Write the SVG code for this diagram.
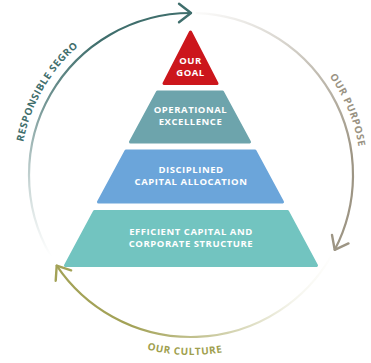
<svg xmlns="http://www.w3.org/2000/svg" width="371" height="363" viewBox="0 0 371 363">
<defs>
<style>
.tier{stroke-width:3;stroke-linejoin:round}
.tt{font-family:"Open Sans","Noto Sans","Liberation Sans",sans-serif;font-weight:700;font-size:9.5px;fill:#ffffff;text-anchor:middle;letter-spacing:0.55px}
.at{font-family:"Open Sans","Noto Sans","Liberation Sans",sans-serif;font-weight:700;font-size:10px;letter-spacing:0.6px}
.arc{fill:none;stroke-width:2.2;stroke-linecap:round}
</style>
<linearGradient id="gTeal" gradientUnits="userSpaceOnUse" x1="50" y1="256" x2="150" y2="20">
<stop offset="0" stop-color="#3f6e6c" stop-opacity="0"/>
<stop offset="0.24" stop-color="#3f6e6c" stop-opacity="0.3"/>
<stop offset="0.56" stop-color="#3f6e6c" stop-opacity="0.75"/>
<stop offset="0.85" stop-color="#3f6e6c" stop-opacity="1"/>
</linearGradient>
<linearGradient id="gGrey" gradientUnits="userSpaceOnUse" x1="200" y1="13" x2="345" y2="240">
<stop offset="0" stop-color="#9d9584" stop-opacity="0.05"/>
<stop offset="0.4" stop-color="#9d9584" stop-opacity="0.6"/>
<stop offset="0.75" stop-color="#9d9584" stop-opacity="1"/>
</linearGradient>
<linearGradient id="gOlive" gradientUnits="userSpaceOnUse" x1="335" y1="250" x2="60" y2="266">
<stop offset="0" stop-color="#a3a257" stop-opacity="0"/>
<stop offset="0.15" stop-color="#a3a257" stop-opacity="0.1"/>
<stop offset="0.45" stop-color="#a3a257" stop-opacity="0.55"/>
<stop offset="0.75" stop-color="#a3a257" stop-opacity="1"/>
</linearGradient>
<marker id="mTeal" markerUnits="userSpaceOnUse" orient="auto" markerWidth="30" markerHeight="30" refX="0" refY="0" viewBox="-15 -15 30 30" overflow="visible">
<path d="M-12,-9.3 L0,0 L-12,9.3" fill="none" stroke="#3f6e6c" stroke-width="2.4" stroke-linecap="round" stroke-linejoin="round"/>
</marker>
<marker id="mGrey" markerUnits="userSpaceOnUse" orient="auto" markerWidth="30" markerHeight="30" refX="0" refY="0" viewBox="-15 -15 30 30" overflow="visible">
<path d="M-12,-9.3 L0,0 L-12,9.3" fill="none" stroke="#9d9584" stroke-width="2.4" stroke-linecap="round" stroke-linejoin="round"/>
</marker>
<marker id="mOlive" markerUnits="userSpaceOnUse" orient="auto" markerWidth="30" markerHeight="30" refX="0" refY="0" viewBox="-15 -15 30 30" overflow="visible">
<path d="M-12,-9.3 L0,0 L-12,9.3" fill="none" stroke="#a3a257" stroke-width="2.4" stroke-linecap="round" stroke-linejoin="round"/>
</marker>
<path id="pLeft" d="M22.6,204.7 A171,171 0 0 1 132.5,14.3"/>
<path id="pRight" d="M269.5,24.2 A170,170 0 0 1 353.1,226.1"/>
<path id="pBottom" d="M70.6,308.8 A180,180 0 0 0 301.8,316.8"/>
</defs>
<rect width="371" height="363" fill="#ffffff"/>
<g id="connectors">
<path id="arc-responsible" class="arc" stroke="url(#gTeal)" d="M50.7,256 A162,162 0 0 1 191,13" marker-end="url(#mTeal)"/>
<path id="arc-purpose" class="arc" stroke="url(#gGrey)" d="M196.7,13.1 A162,162 0 0 1 334.7,249.8" marker-end="url(#mGrey)"/>
<path id="arc-culture" class="arc" stroke="url(#gOlive)" d="M331.3,256 A162,162 0 0 1 56.7,265.6" marker-end="url(#mOlive)"/>
</g>
<g id="label-responsible">
<text class="at" fill="#3f6e6c"><textPath href="#pLeft" startOffset="50%" text-anchor="middle">RESPONSIBLE SEGRO</textPath></text>
</g>
<g id="label-purpose">
<text class="at" fill="#9a9383"><textPath href="#pRight" startOffset="50%" text-anchor="middle">OUR PURPOSE</textPath></text>
</g>
<g id="label-culture">
<text class="at" fill="#a09f4f"><textPath href="#pBottom" startOffset="50%" text-anchor="middle">OUR CULTURE</textPath></text>
</g>
<g id="node-goal">
<polygon class="tier" fill="#cc161c" stroke="#cc161c" points="190.5,32 164,83.5 217,83.5"/>
<text class="tt" x="190.5" y="64">OUR</text>
<text class="tt" x="190.5" y="75.7">GOAL</text>
</g>
<g id="node-operational">
<polygon class="tier" fill="#6da4ac" stroke="#6da4ac" points="157.5,92 222.5,92 249.5,142 130.5,142"/>
<text class="tt" x="190.5" y="113">OPERATIONAL</text>
<text class="tt" x="190.5" y="125">EXCELLENCE</text>
</g>
<g id="node-disciplined">
<polygon class="tier" fill="#6ba5da" stroke="#6ba5da" points="126,151 255,151 282.5,202 98.5,202"/>
<text class="tt" x="191" y="173.3">DISCIPLINED</text>
<text class="tt" x="191" y="185">CAPITAL ALLOCATION</text>
</g>
<g id="node-efficient">
<polygon class="tier" fill="#72c4c0" stroke="#72c4c0" points="94.5,211.5 287.5,211.5 316.5,265.5 65.5,265.5"/>
<text class="tt" x="191" y="235.3">EFFICIENT CAPITAL AND</text>
<text class="tt" x="191" y="247">CORPORATE STRUCTURE</text>
</g>
</svg>
